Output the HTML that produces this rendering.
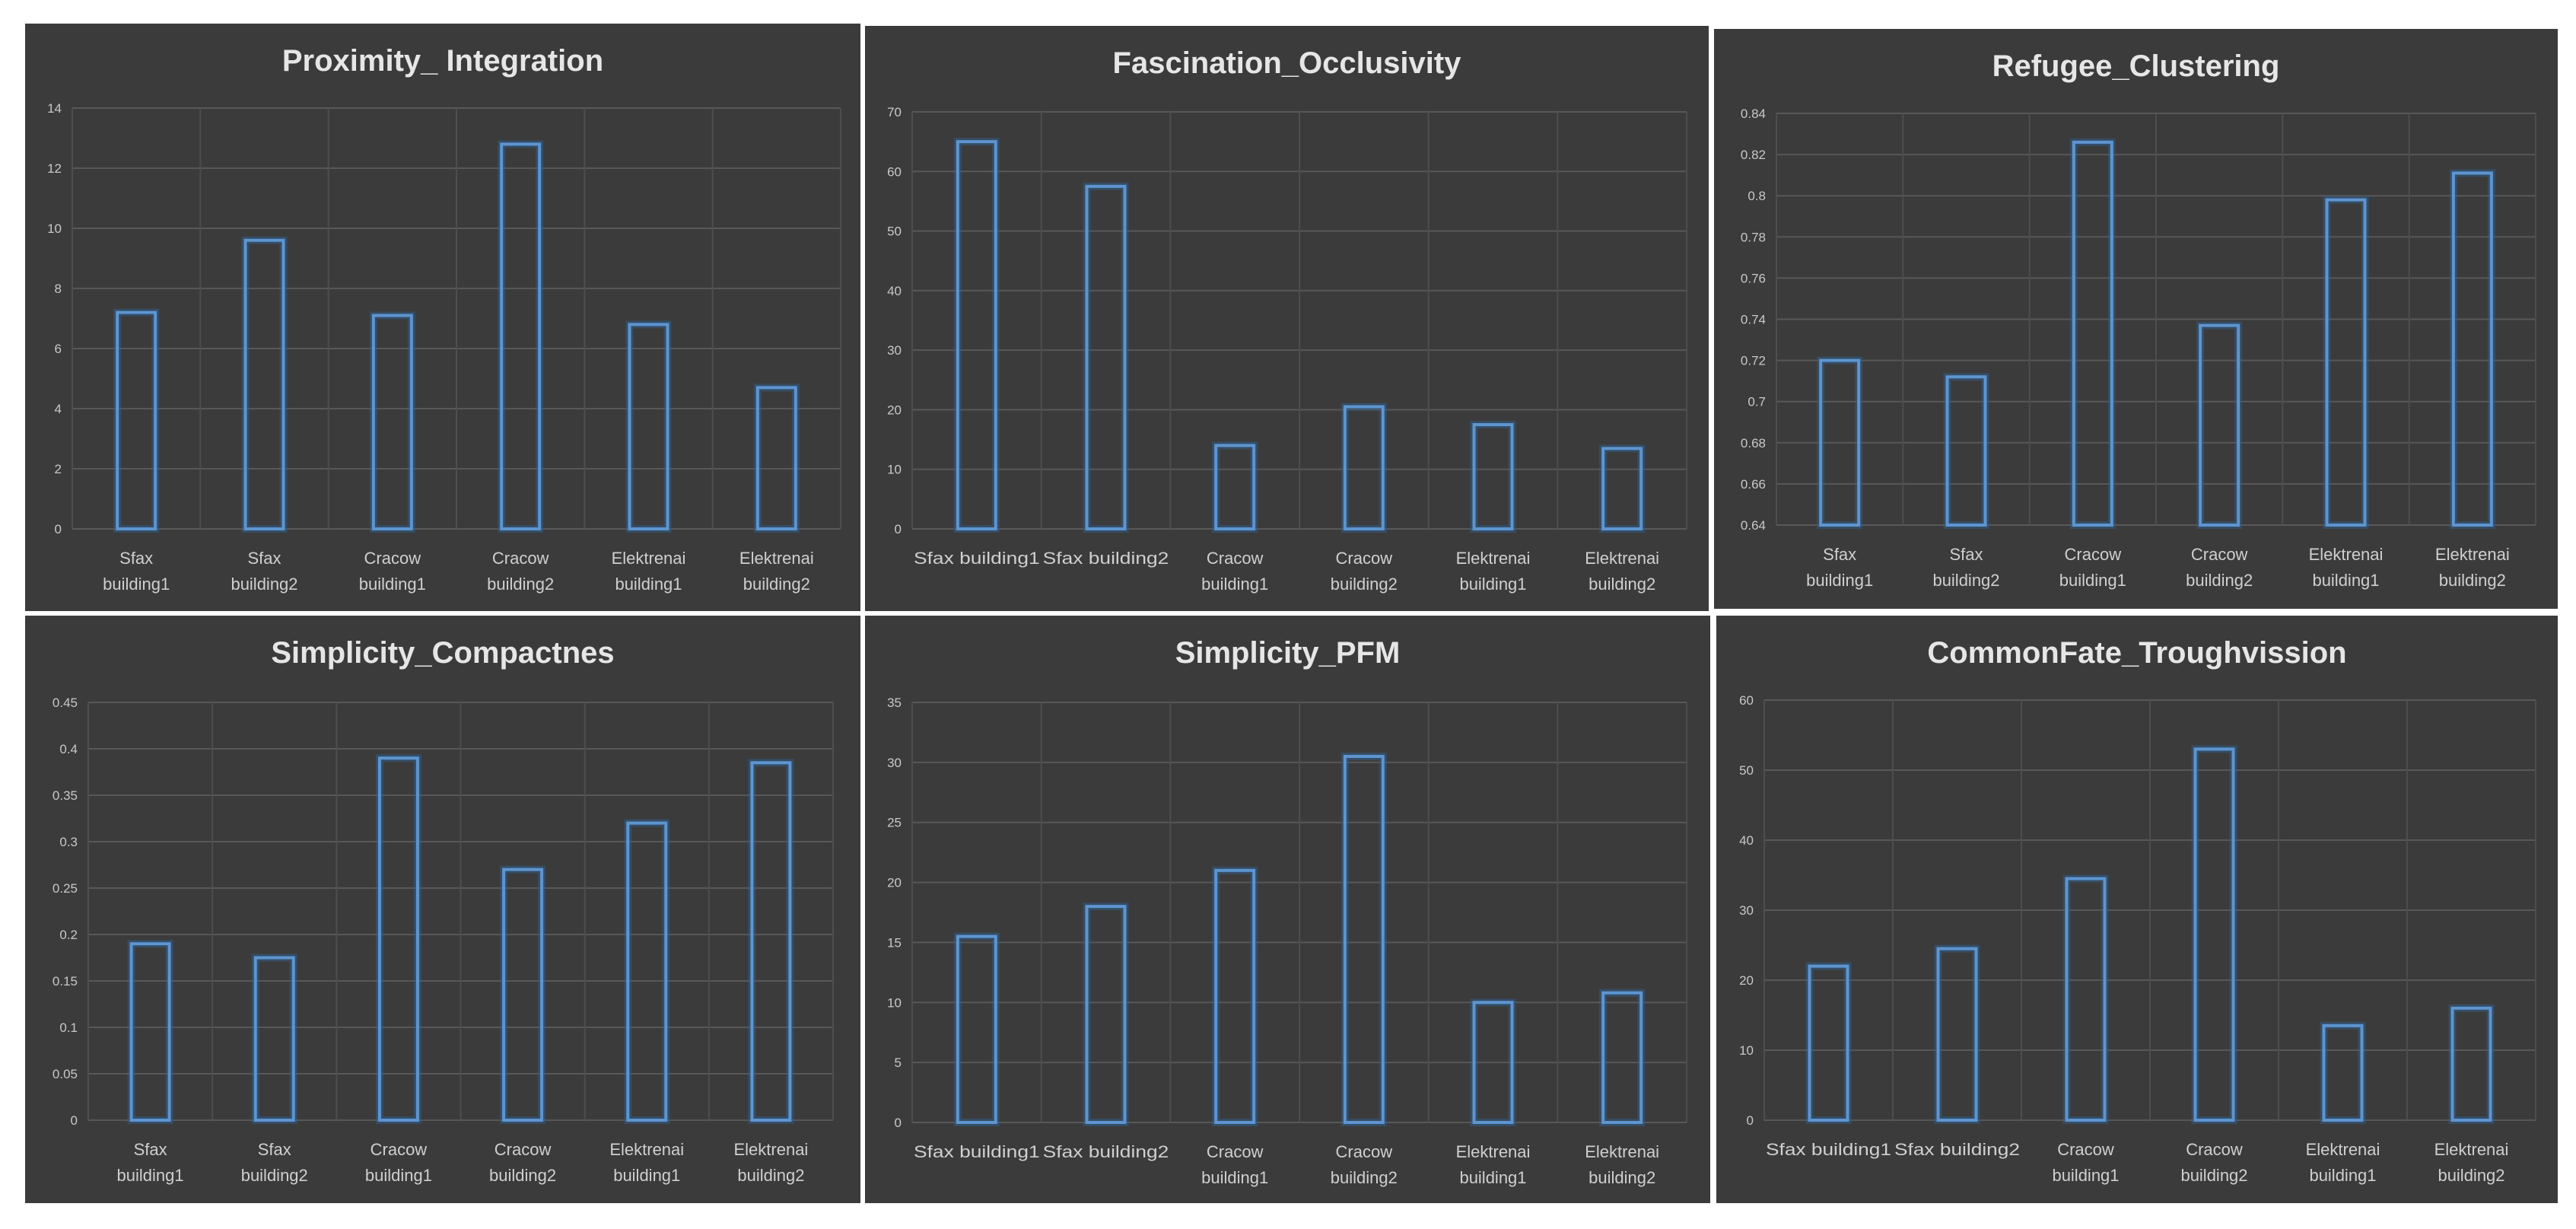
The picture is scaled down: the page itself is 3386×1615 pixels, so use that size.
<!DOCTYPE html>
<html><head><meta charset="utf-8">
<style>
html,body{margin:0;padding:0;background:#fff;}
body{width:3386px;height:1615px;overflow:hidden;position:relative;font-family:"Liberation Sans",sans-serif;}
svg{position:absolute;left:0;top:0;}
</style></head>
<body>
<svg id="chart" width="3386" height="1615" xmlns="http://www.w3.org/2000/svg"></svg>
<script>
const categoriesLine1 = ["Sfax","Sfax","Cracow","Cracow","Elektrenai","Elektrenai"];
const categoriesLine2 = ["building1","building2","building1","building2","building1","building2"];
const categoriesSingle = ["Sfax building1","Sfax building2"];

const proximityValues = [7.2, 9.6, 7.1, 12.8, 6.8, 4.7];
const proximityTicks = ["0","2","4","6","8","10","12","14"];

const fascinationValues = [65, 57.5, 14, 20.5, 17.5, 13.5];
const fascinationTicks = ["0","10","20","30","40","50","60","70"];

const refugeeValues = [0.72, 0.712, 0.826, 0.737, 0.798, 0.811];
const refugeeTicks = ["0.64","0.66","0.68","0.7","0.72","0.74","0.76","0.78","0.8","0.82","0.84"];

const compactValues = [0.19, 0.175, 0.39, 0.27, 0.32, 0.385];
const compactTicks = ["0","0.05","0.1","0.15","0.2","0.25","0.3","0.35","0.4","0.45"];

const pfmValues = [15.5, 18, 21, 30.5, 10, 10.8];
const pfmTicks = ["0","5","10","15","20","25","30","35"];

const fateValues = [22, 24.5, 34.5, 53, 13.5, 16];
const fateTicks = ["0","10","20","30","40","50","60"];

const NS = "http://www.w3.org/2000/svg";
const svg = document.getElementById('chart');
function mk(tag, attrs, parent){
  const e = document.createElementNS(NS, tag);
  for (const k in attrs) e.setAttribute(k, attrs[k]);
  (parent||svg).appendChild(e);
  return e;
}

function drawPanel(cfg){
  const g = mk('g', {});
  
  
  const bg = mk('rect', {x:cfg.px, y:cfg.py, width:cfg.pw, height:cfg.ph, fill:'#3b3b3b'}, g);
  
  
  const t = mk('text', {x:cfg.px + cfg.pw/2, y:cfg.py + 62, 'text-anchor':'middle', fill:'#e6e6e6', 'font-size':40, 'font-weight':'bold'}, g);
  t.textContent = cfg.title;
  
  
  const ticks = cfg.ticks;
  const tmin = parseFloat(ticks[0]), tmax = parseFloat(ticks[ticks.length-1]);
  const yScale = v => cfg.y0 - (v - tmin) / (tmax - tmin) * (cfg.y0 - cfg.y1);
  const n = cfg.values.length;
  const bandW = (cfg.x1 - cfg.x0) / n;
  const xScale = i => cfg.x0 + bandW * (i + 0.5);
  // gridlines
  ticks.forEach(tk => {
    const y = yScale(parseFloat(tk));
    const l = mk('line', {x1:cfg.x0, x2:cfg.x1, y1:y, y2:y, stroke:'#585858', 'stroke-width':2}, g);
    
    
    const tx = mk('text', {x:cfg.x0 - 14, y:y + 6, 'text-anchor':'end', fill:'#c8c8c8', 'font-size':17}, g);
    tx.textContent = tk;
    
    
  });
  for (let i = 0; i <= n; i++){
    const x = cfg.x0 + bandW * i;
    const l = mk('line', {x1:x, x2:x, y1:cfg.y1, y2:cfg.y0, stroke:'#4e4e4e', 'stroke-width':2}, g);
    
    
  }
  const bw = 50;
  cfg.values.forEach((v, i) => {
    const yTop = yScale(v);
    const glow = mk('rect', {x:xScale(i)-bw/2, y:yTop, width:bw, height:cfg.y0 - yTop, fill:'none', stroke:'#2f5f90', 'stroke-width':10, opacity:0.5}, g);
    
    
    const r = mk('rect', {x:xScale(i)-bw/2, y:yTop, width:bw, height:cfg.y0 - yTop, fill:'none', stroke:'#5d95d0', 'stroke-width':4}, g);
    
    
  });
  for (let i = 0; i < n; i++){
    const lx = xScale(i);
    const ly = cfg.y0 + 46;
    if (cfg.singleFirstTwo && i < 2){
      const tx = mk('text', {x:lx, y:ly, 'text-anchor':'middle', fill:'#cfcfcf', 'font-size':22, textLength: bandW - 4, lengthAdjust:'spacingAndGlyphs'}, g);
      tx.textContent = categoriesSingle[i];
      
      
    } else {
      const tx = mk('text', {x:lx, y:ly, 'text-anchor':'middle', fill:'#cfcfcf', 'font-size':22}, g);
      tx.textContent = categoriesLine1[i];
      
      
      const tx2 = mk('text', {x:lx, y:ly + 34, 'text-anchor':'middle', fill:'#cfcfcf', 'font-size':22}, g);
      tx2.textContent = categoriesLine2[i];
      
      
    }
  }
}

drawPanel({name:'proximity-integration', title:'Proximity_ Integration', px:33, py:31, pw:1098, ph:772, x0:95, x1:1105, y0:695, y1:142, ticks:proximityTicks, values:proximityValues});
drawPanel({name:'fascination-occlusivity', title:'Fascination_Occlusivity', px:1137, py:34, pw:1109, ph:769, x0:1199, x1:2217, y0:695, y1:147, ticks:fascinationTicks, values:fascinationValues, singleFirstTwo:true});
drawPanel({name:'refugee-clustering', title:'Refugee_Clustering', px:2253, py:38, pw:1109, ph:762, x0:2335, x1:3333, y0:690, y1:149, ticks:refugeeTicks, values:refugeeValues});
drawPanel({name:'simplicity-compactnes', title:'Simplicity_Compactnes', px:33, py:809, pw:1098, ph:772, x0:116, x1:1095, y0:1472, y1:923, ticks:compactTicks, values:compactValues});
drawPanel({name:'simplicity-pfm', title:'Simplicity_PFM', px:1137, py:809, pw:1111, ph:772, x0:1199, x1:2217, y0:1475, y1:923, ticks:pfmTicks, values:pfmValues, singleFirstTwo:true});
drawPanel({name:'commonfate-troughvission', title:'CommonFate_Troughvission', px:2256, py:809, pw:1106, ph:772, x0:2319, x1:3333, y0:1472, y1:920, ticks:fateTicks, values:fateValues, singleFirstTwo:true});
</script>
</body></html>
